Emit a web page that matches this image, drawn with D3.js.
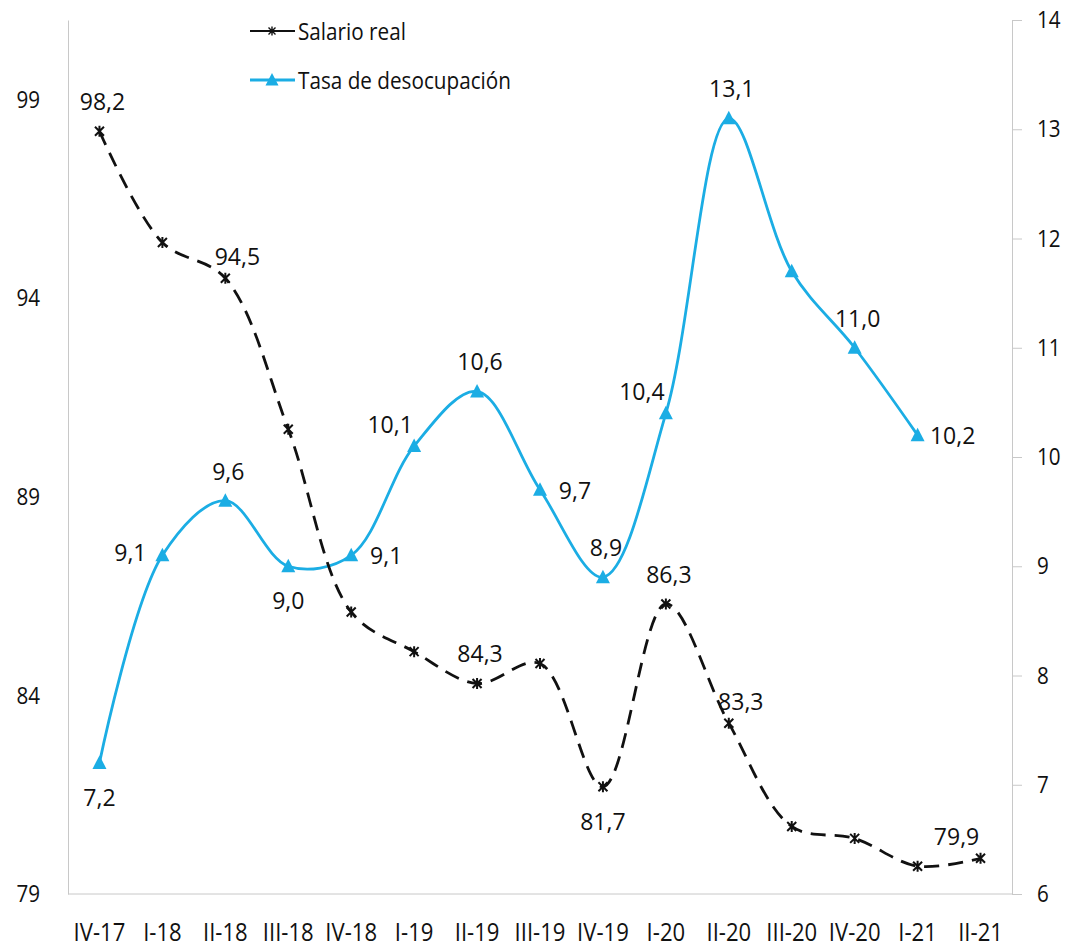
<!DOCTYPE html>
<html><head><meta charset="utf-8">
<script src="https://cdn.jsdelivr.net/npm/d3@7"></script>
<style>
body{margin:0;background:#fff;}
text{font-family:"Open Sans",sans-serif;fill:#111;}
</style></head>
<body><svg id="c" width="1077" height="951"></svg>
<script>
const categories = ["IV-17","I-18","II-18","III-18","IV-18","I-19","II-19","III-19","IV-19","I-20","II-20","III-20","IV-20","I-21","II-21"];
const salarioReal = [98.2,95.4,94.5,90.7,86.1,85.1,84.3,84.8,81.7,86.3,83.3,80.7,80.4,79.7,79.9];
const tasaDesocupacion = [7.2,9.1,9.6,9.0,9.1,10.1,10.6,9.7,8.9,10.4,13.1,11.7,11.0,10.2,null];
const leftTicks = [79,84,89,94,99];
const rightTicks = [6,7,8,9,10,11,12,13,14];
// label placement codes ("none" = no label)
const salarioLabelPos = ["above","none","aboveRight","none","none","none","above","none","below","above","aboveRight","none","none","none","aboveLeft"];
const tasaLabelPos = ["below","left","above","below","right","aboveLeft","above","right","above","aboveLeft","above","none","above","right",null];

const svg = d3.select("#c");
const L = 68, R = 1012, T = 20, B = 894;
const x = d3.scaleBand().domain(categories).range([L, R]);
const cx = c => x(c) + x.bandwidth()/2;
const yL = d3.scaleLinear().domain([79,101]).range([B,T]);
const yR = d3.scaleLinear().domain([6,14]).range([B,T]);
const fmt = v => v.toFixed(1).replace(".", ",");
const blue = "#1BADE4";
const grey = "#c8c8c8";

// axes
const sxY = 0.86, sxX = 0.85;
const axL = svg.append("g").attr("transform",`translate(${L},0)`)
  .call(d3.axisLeft(yL).tickValues(leftTicks).tickSize(0).tickFormat(d3.format("d")));
axL.select(".domain").attr("stroke",grey);
axL.selectAll(".tick text").attr("x",-28/sxY).attr("transform",`scale(${sxY},1)`).style("font-size","24px");

const axR = svg.append("g").attr("transform",`translate(${R},0)`)
  .call(d3.axisRight(yR).tickValues(rightTicks).tickSize(10).tickFormat(d3.format("d")));
axR.select(".domain").attr("stroke",grey);
axR.selectAll(".tick line").attr("stroke",grey);
axR.selectAll(".tick text").attr("x",25/sxY).attr("transform",`scale(${sxY},1)`).style("font-size","24px");

const axB = svg.append("g").attr("transform",`translate(0,${B})`)
  .call(d3.axisBottom(x).tickSize(0).tickPadding(29));
axB.select(".domain").attr("stroke",grey).attr("d",`M${L},0H${R}`);
axB.selectAll(".tick text").attr("transform",`scale(${sxX},1)`).style("font-size","26px");
svg.selectAll(".tick text").style("font-family","'Open Sans',sans-serif").attr("fill","#111");

const curve = d3.curveCatmullRom.alpha(0.5);

// Tasa line
const tData = categories.map((c,i)=>({c,v:tasaDesocupacion[i],p:tasaLabelPos[i]})).filter(d=>d.v!=null);
svg.append("path").datum(tData)
  .attr("d", d3.line().x(d=>cx(d.c)).y(d=>yR(d.v)).curve(curve))
  .attr("fill","none").attr("stroke",blue).attr("stroke-width",2.8);
svg.selectAll(".tri").data(tData).join("path")
  .attr("transform",d=>`translate(${cx(d.c)},${yR(d.v)})`)
  .attr("d","M0,-7.5L7,6L-7,6Z").attr("fill",blue);

// Salario line
const sData = categories.map((c,i)=>({c,v:salarioReal[i],p:salarioLabelPos[i]}));
svg.append("path").datum(sData)
  .attr("d", d3.line().x(d=>cx(d.c)).y(d=>yL(d.v)).curve(curve))
  .attr("fill","none").attr("stroke","#111").attr("stroke-width",2.8).attr("stroke-dasharray","15,9");
svg.selectAll(".star").data(sData).join("path")
  .attr("transform",d=>`translate(${cx(d.c)},${yL(d.v)})`)
  .attr("d","M-4.5,-4.5L4.5,4.5M-4.5,4.5L4.5,-4.5M0,-5.5L0,5.5")
  .attr("stroke","#111").attr("stroke-width",2).attr("fill","none");

// labels
const off = {above:[3,-30],below:[0,34],left:[-32,-3],right:[35,0],aboveLeft:[-24,-22],aboveRight:[12,-22]};
function labels(data, y){
  svg.append("g").selectAll("text").data(data.filter(d=>d.p && d.p!=="none")).join("text")
    .attr("x",d=>cx(d.c)+off[d.p][0])
    .attr("y",d=>y(d.v)+off[d.p][1])
    .attr("text-anchor","middle").attr("dominant-baseline","central")
    .style("font-size","23px").text(d=>fmt(d.v));
}
labels(sData, yL);
labels(tData, yR);

// legend
const lg = svg.append("g");
lg.append("line").attr("x1",250).attr("x2",295).attr("y1",31).attr("y2",31).attr("stroke","#111").attr("stroke-width",2);
lg.append("path").attr("transform","translate(272,31)").attr("d","M-3.5,-3.5L3.5,3.5M-3.5,3.5L3.5,-3.5M0,-4.5L0,4.5").attr("stroke","#111").attr("stroke-width",1.4);
lg.append("text").attr("transform","translate(298,31) scale(0.9,1)").attr("dominant-baseline","central").style("font-size","23px").text("Salario real");
lg.append("line").attr("x1",250).attr("x2",295).attr("y1",80).attr("y2",80).attr("stroke",blue).attr("stroke-width",2.8);
lg.append("path").attr("transform","translate(272,80)").attr("d","M0,-7L6.5,5.5L-6.5,5.5Z").attr("fill",blue);
lg.append("text").attr("transform","translate(298,80) scale(0.9,1)").attr("dominant-baseline","central").style("font-size","23px").text("Tasa de desocupación");
</script></body></html>
